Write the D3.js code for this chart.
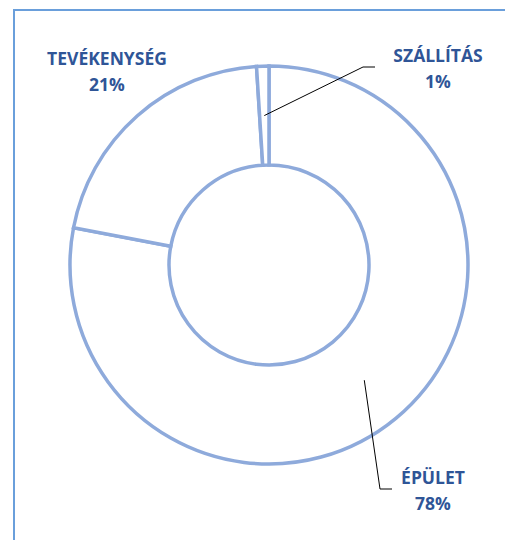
<!DOCTYPE html>
<html>
<head>
<meta charset="utf-8">
<script src="https://cdn.jsdelivr.net/npm/d3@7"></script>
<style>
  body { margin: 0; background: #fff; }
  svg { display: block; }
</style>
</head>
<body>
<div id="chart"></div>
<script>
const categories = ["ÉPÜLET", "TEVÉKENYSÉG", "SZÁLLÍTÁS"];
const shares = [78, 21, 1];
const pctLabels = ["78%", "21%", "1%"];

const W = 505, H = 540;
const cx = 269, cy = 265;
const outerR = 199, innerR = 100;

const sliceStroke = "#8EAADB";
const textColor = "#2F5597";
const borderColor = "#6A9FDB";

// label anchor (text centre, first baseline) and leader elbow, relative to centre
const labelLayout = {
  "ÉPÜLET":      { x: 164, y: 219, elbow: [111, 224], end: [123, 224] },
  "TEVÉKENYSÉG": { x: -162, y: -200, elbow: null },
  "SZÁLLÍTÁS":   { x: 169, y: -203, elbow: [94, -198], end: [106, -198] }
};

const svg = d3.select("#chart")
  .append("svg")
  .attr("width", W)
  .attr("height", H);

svg.append("rect")
   .attr("x", 14).attr("y", 10)
   .attr("width", W).attr("height", H)
   .attr("fill", "none")
   .attr("stroke", borderColor)
   .attr("stroke-width", 2);

const g = svg.append("g")
  .attr("transform", `translate(${cx}, ${cy})`);

const pie = d3.pie().sort(null).value(d => d);
const arcs = pie(shares);
const arc = d3.arc().innerRadius(innerR).outerRadius(outerR);

g.selectAll("path")
 .data(arcs)
 .join("path")
 .attr("d", arc)
 .attr("fill", "#fff")
 .attr("stroke", sliceStroke)
 .attr("stroke-width", 3.5)
 .attr("stroke-linejoin", "miter");

// leader lines
arcs.forEach((a, i) => {
  const lay = labelLayout[categories[i]];
  if (!lay.elbow) return;
  const c = arc.centroid(a);
  g.append("polyline")
   .attr("points", [c, lay.elbow, lay.end].map(p => p.join(",")).join(" "))
   .attr("fill", "none")
   .attr("stroke", "#000")
   .attr("stroke-width", 1);
});

// labels
const labels = g.selectAll("text.lbl")
  .data(categories)
  .join("text")
  .attr("class", "lbl")
  .attr("text-anchor", "middle")
  .attr("font-family", "'Open Sans', sans-serif")
  .attr("font-weight", "bold")
  .attr("font-size", "17.5px")
  .attr("fill", textColor);

labels.append("tspan")
  .attr("x", d => labelLayout[d].x)
  .attr("y", d => labelLayout[d].y)
  .text(d => d);

labels.append("tspan")
  .attr("x", d => labelLayout[d].x)
  .attr("dy", 26)
  .text((d, i) => pctLabels[i]);
</script>
</body>
</html>
